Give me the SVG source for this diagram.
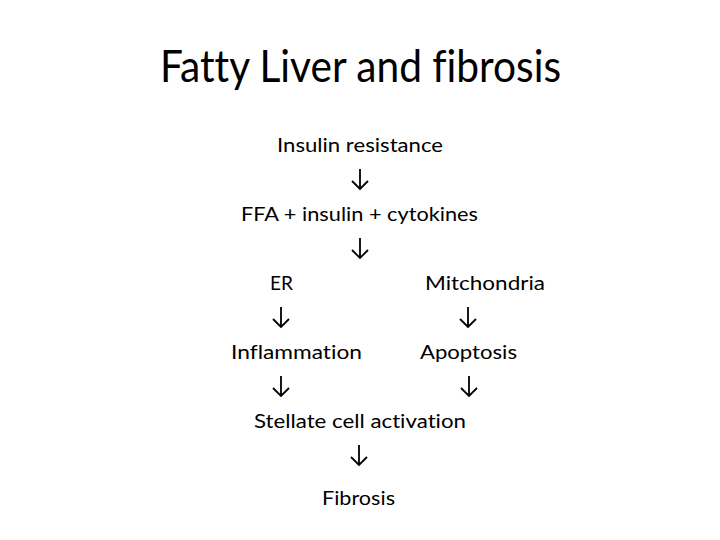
<svg xmlns="http://www.w3.org/2000/svg" width="720" height="540" viewBox="0 0 720 540">
<style>
.t{font-family:Lato,"Open Sans","Liberation Sans",sans-serif;fill:#000;text-anchor:middle;font-variant-ligatures:none}
.title{font-size:45px}
.b{font-size:19.5px}
.c{fill:none;stroke:#000;stroke-width:1.8;stroke-linecap:butt;stroke-linejoin:miter}
</style>
<defs>
<path id="arr" d="M0,0 V20 M-8,12 L0,20 L8,12" fill="none" stroke="#000" stroke-width="1.8"/>
</defs>
<rect width="720" height="540" fill="#fff"/>
<g id="title"><text class="t title" x="360.5" y="82" textLength="401" lengthAdjust="spacingAndGlyphs">Fatty Liver and fibrosis</text></g>
<g id="insulin"><text class="t b" x="360" y="152" textLength="166" lengthAdjust="spacingAndGlyphs">Insulin resistance</text></g>
<g id="ffa"><text class="t b" x="359.5" y="221" textLength="237" lengthAdjust="spacingAndGlyphs">FFA + insulin + cytokines</text></g>
<g id="er"><text class="t b" x="281.5" y="290" textLength="23" lengthAdjust="spacingAndGlyphs">ER</text></g>
<g id="mito"><text class="t b" x="485" y="290" textLength="120" lengthAdjust="spacingAndGlyphs">Mitchondria</text></g>
<g id="inflam"><text class="t b" x="296.5" y="359" textLength="131" lengthAdjust="spacingAndGlyphs">Inflammation</text></g>
<g id="apop"><text class="t b" x="468.5" y="359" textLength="97" lengthAdjust="spacingAndGlyphs">Apoptosis</text></g>
<g id="stellate"><text class="t b" x="360" y="428" textLength="212" lengthAdjust="spacingAndGlyphs">Stellate cell activation</text></g>
<g id="fibrosis"><text class="t b" x="358.5" y="505" textLength="73" lengthAdjust="spacingAndGlyphs">Fibrosis</text></g>
<g id="connectors" class="c">
<use href="#arr" x="360" y="169"/>
<use href="#arr" x="360" y="238"/>
<use href="#arr" x="281" y="307"/>
<use href="#arr" x="468" y="307"/>
<use href="#arr" x="281" y="376"/>
<use href="#arr" x="469" y="376"/>
<use href="#arr" x="359" y="445"/>
</g>
</svg>
